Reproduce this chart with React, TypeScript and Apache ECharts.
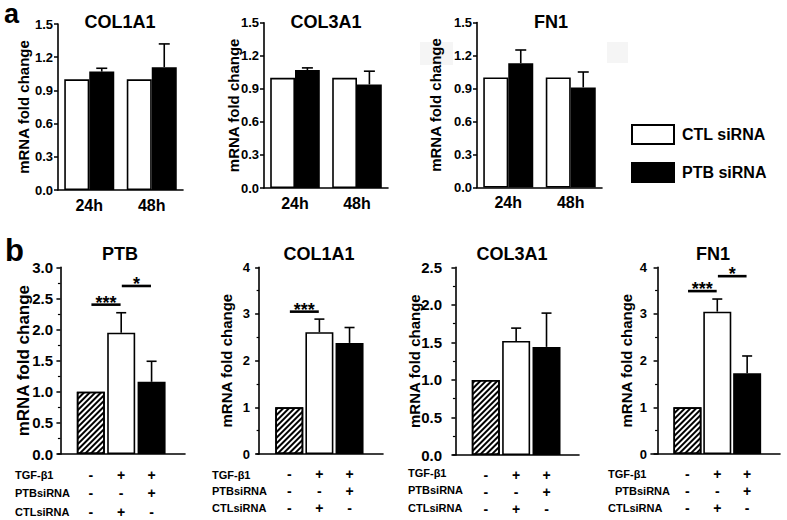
import { useEffect, useRef } from 'react';
import * as echarts from 'echarts';

const FONT = '"Liberation Sans", Arial, Helvetica, sans-serif';

// ---------------- Panel a data ----------------
const timePoints = ['24h', '48h'];
const seriesNames = ['CTL siRNA', 'PTB siRNA'];
const panelAGenes = ['COL1A1', 'COL3A1', 'FN1'];
const col1a1ACtl = [1.0, 1.0];
const col1a1APtb = [1.07, 1.11];
const col1a1APtbErr = [0.03, 0.21];
const col3a1ACtl = [1.0, 1.0];
const col3a1APtb = [1.07, 0.94];
const col3a1APtbErr = [0.02, 0.12];
const fn1ACtl = [1.0, 1.0];
const fn1APtb = [1.13, 0.91];
const fn1APtbErr = [0.12, 0.14];
const panelAMax = 1.5;
const panelAStep = 0.3;

// ---------------- Panel b data ----------------
const panelBGenes = ['PTB', 'COL1A1', 'COL3A1', 'FN1'];
const conditionSlots = [1, 2, 3];
const ptbB = [1.0, 1.95, 1.16];
const ptbBErr = [0, 0.32, 0.33];
const col1a1B = [1.0, 2.61, 2.38];
const col1a1BErr = [0, 0.28, 0.33];
const col3a1B = [1.0, 1.52, 1.44];
const col3a1BErr = [0, 0.17, 0.45];
const fn1B = [1.0, 3.05, 1.73];
const fn1BErr = [0, 0.27, 0.37];
const panelBMax = [3, 4, 2.5, 4];
const panelBStep = [0.5, 1, 0.5, 1];
// significance brackets: [fromSlot, toSlot, height]
const ptbSig = [[1, 2, 2.4], [2, 3, 2.7]];
const ptbSigLabels = ['***', '*'];
const col1a1Sig = [[1, 2, 3.05]];
const col1a1SigLabels = ['***'];
const col3a1Sig: number[][] = [];
const col3a1SigLabels: string[] = [];
const fn1Sig = [[1, 2, 3.49], [2, 3, 3.81]];
const fn1SigLabels = ['***', '*'];
// treatment table
const tableRowLabels = ['TGF-β1', 'PTBsiRNA', 'CTLsiRNA'];
const tgfRow = ['-', '+', '+'];
const ptbSiRow = ['-', '-', '+'];
const ctlSiRow = ['-', '+', '-'];

export default function App() {
  const ref = useRef<HTMLDivElement>(null);

  useEffect(() => {
    if (!ref.current) return;
    const chart = echarts.init(ref.current, undefined, { renderer: 'svg' });

    const aCtl = [col1a1ACtl, col3a1ACtl, fn1ACtl];
    const aPtb = [col1a1APtb, col3a1APtb, fn1APtb];
    const aPtbErr = [col1a1APtbErr, col3a1APtbErr, fn1APtbErr];
    const bVals = [ptbB, col1a1B, col3a1B, fn1B];
    const bErrs = [ptbBErr, col1a1BErr, col3a1BErr, fn1BErr];
    const bSig = [ptbSig, col1a1Sig, col3a1Sig, fn1Sig];
    const bSigLabels = [ptbSigLabels, col1a1SigLabels, col3a1SigLabels, fn1SigLabels];

    // layout
    const aGrids = [
      { left: 58, top: 24, width: 125, height: 166 },
      { left: 264, top: 22.7, width: 124, height: 165.3 },
      { left: 477, top: 22.5, width: 125, height: 165 },
    ];
    const aNameGap = [27, 23, 34];
    const bGrids = [
      { left: 58, top: 267.3, width: 127, height: 186.7 },
      { left: 257, top: 267.3, width: 126, height: 186.7 },
      { left: 453, top: 267.3, width: 126, height: 187.7 },
      { left: 651, top: 267.3, width: 129, height: 186.7 },
    ];
    const bXMin = [-0.08, -0.07, -0.08, -0.22];
    const bXMax = [4.1, 4.11, 4.07, 4.1];
    const bTickFont = [15, 13, 15, 13];
    const bNameFont = [17, 15, 15, 15];
    const bNameGap = [26, 23, 31, 17];
    const bLabelMargin = [5, 7, 11, 4];
    const bRowLine = [18.5, 17, 17, 17];
    const bRowMargin = [11.5, 11.5, 11, 11.5];
    const bTitleX = [120, 319, 512, 713];
    const aTitleX = [120, 326, 551];
    const rowLabelX = [[15, 15, 15], [212, 212, 212], [408, 408, 408], [608, 615, 608]];
    const rowLabelY = [[475, 493, 512], [475, 491, 508], [473, 490, 508], [474, 491, 508]];

    const black = '#000';
    const axisLineStyle = { color: black, width: 1.6 };

    const grid: any[] = [];
    const xAxis: any[] = [];
    const yAxis: any[] = [];
    const series: any[] = [];
    const graphic: any[] = [];

    const txt = (text: string, x: number, y: number, size: number, align = 'left') => ({
      type: 'text',
      x,
      y,
      silent: true,
      style: {
        text,
        fill: black,
        fontFamily: FONT,
        fontWeight: 'bold',
        fontSize: size,
        textAlign: align,
        align,
        textVerticalAlign: 'middle',
        verticalAlign: 'middle',
      },
    });

    // ---------- panel a ----------
    aGrids.forEach((g, i) => {
      grid.push({ ...g, containLabel: false, outerBoundsMode: 'none' });
      xAxis.push({
        type: 'category',
        gridIndex: i,
        data: timePoints,
        axisLine: { lineStyle: axisLineStyle },
        axisTick: { show: false },
        axisLabel: { color: black, fontFamily: FONT, fontWeight: 'bold', fontSize: 16, margin: 7 },
        splitLine: { show: false },
      });
      yAxis.push({
        type: 'value',
        gridIndex: i,
        min: 0,
        max: panelAMax,
        interval: panelAStep,
        axisLine: { show: true, lineStyle: axisLineStyle },
        axisTick: { show: true, length: 4, lineStyle: { color: black, width: 1.5 } },
        axisLabel: {
          color: black, fontFamily: FONT, fontWeight: 'bold', fontSize: 13, margin: 5,
          formatter: (v: number) => v.toFixed(1),
        },
        splitLine: { show: false },
        name: 'mRNA fold change',
        nameLocation: 'middle',
        nameRotate: 90,
        nameGap: aNameGap[i],
        nameMoveOverlap: false,
        nameTextStyle: { color: black, fontFamily: FONT, fontWeight: 'bold', fontSize: 15 },
      });
      series.push({
        type: 'bar',
        name: seriesNames[0],
        xAxisIndex: i,
        yAxisIndex: i,
        data: aCtl[i],
        barGap: '0%',
        barCategoryGap: '20%',
        itemStyle: { color: '#fff', borderColor: black, borderWidth: 1.6 },
      });
      series.push({
        type: 'bar',
        name: seriesNames[1],
        xAxisIndex: i,
        yAxisIndex: i,
        data: aPtb[i],
        barGap: '0%',
        barCategoryGap: '20%',
        itemStyle: { color: black, borderColor: black, borderWidth: 1.6 },
      });
      series.push({
        type: 'custom',
        xAxisIndex: i,
        yAxisIndex: i,
        z: 5,
        data: aPtb[i].map((v, k) => [k, v, aPtbErr[i][k]]),
        renderItem: (_p: any, api: any) => {
          const cat = api.value(0);
          const v = api.value(1);
          const e = api.value(2);
          const band = api.size([1, 0])[0];
          const barW = (band * 0.8) / 2;
          const p0 = api.coord([cat, v]);
          const p1 = api.coord([cat, v + e]);
          const x = p0[0] + barW / 2;
          const st = { stroke: black, lineWidth: 1.6 };
          return {
            type: 'group',
            children: [
              { type: 'line', shape: { x1: x, y1: p0[1], x2: x, y2: p1[1] }, style: st },
              { type: 'line', shape: { x1: x - 5.5, y1: p1[1], x2: x + 5.5, y2: p1[1] }, style: st },
            ],
          };
        },
      });
      graphic.push(txt(panelAGenes[i], aTitleX[i], 21.5, 18, 'center'));
    });

    // ---------- panel b ----------
    const hatch = {
      symbol: 'rect',
      symbolSize: 1,
      color: black,
      backgroundColor: '#fff',
      dashArrayX: [1, 0],
      dashArrayY: [1.3, 1.9],
      rotation: -Math.PI / 4,
    };
    const barStyles = [
      { color: '#fff', borderColor: black, borderWidth: 1.6, decal: hatch },
      { color: '#fff', borderColor: black, borderWidth: 1.6 },
      { color: black, borderColor: black, borderWidth: 1.6 },
    ];

    bGrids.forEach((g, j) => {
      const gi = aGrids.length + j;
      grid.push({ ...g, containLabel: false, outerBoundsMode: 'none' });
      xAxis.push({
        type: 'value',
        gridIndex: gi,
        min: bXMin[j],
        max: bXMax[j],
        axisLine: { show: true, onZero: false, lineStyle: axisLineStyle },
        axisTick: { show: false },
        splitLine: { show: false },
        axisLabel: {
          customValues: conditionSlots,
          color: black,
          fontFamily: FONT,
          fontWeight: 'bold',
          fontSize: 14,
          lineHeight: bRowLine[j],
          margin: bRowMargin[j],
          formatter: (v: number) => {
            const k = conditionSlots.indexOf(Math.round(v));
            if (k < 0) return '';
            return `${tgfRow[k]}\n${ptbSiRow[k]}\n${ctlSiRow[k]}`;
          },
        },
      });
      yAxis.push({
        type: 'value',
        gridIndex: gi,
        min: 0,
        max: panelBMax[j],
        interval: panelBStep[j],
        axisLine: { show: true, lineStyle: axisLineStyle },
        axisTick: { show: true, length: 4, lineStyle: { color: black, width: 1.5 } },
        minorTick: { show: true, splitNumber: 2, length: 2.5, lineStyle: { color: black, width: 1.2 } },
        axisLabel: {
          color: black, fontFamily: FONT, fontWeight: 'bold', fontSize: bTickFont[j], margin: bLabelMargin[j],
          formatter: (v: number) => (panelBStep[j] < 1 ? v.toFixed(1) : String(v)),
        },
        splitLine: { show: false },
        minorSplitLine: { show: false },
        name: 'mRNA fold change',
        nameLocation: 'middle',
        nameRotate: 90,
        nameGap: bNameGap[j],
        nameMoveOverlap: false,
        nameTextStyle: { color: black, fontFamily: FONT, fontWeight: 'bold', fontSize: bNameFont[j] },
      });
      series.push({
        type: 'bar',
        name: panelBGenes[j],
        xAxisIndex: gi,
        yAxisIndex: gi,
        barWidth: 28,
        data: bVals[j].map((v, k) => ({ value: [conditionSlots[k], v], itemStyle: barStyles[k] })),
      });
      series.push({
        type: 'custom',
        xAxisIndex: gi,
        yAxisIndex: gi,
        z: 5,
        data: bVals[j]
          .map((v, k) => [conditionSlots[k], v, bErrs[j][k]])
          .filter((d) => d[2] > 0),
        renderItem: (_p: any, api: any) => {
          const p0 = api.coord([api.value(0), api.value(1)]);
          const p1 = api.coord([api.value(0), api.value(1) + api.value(2)]);
          const x = p0[0];
          const st = { stroke: black, lineWidth: 1.6 };
          return {
            type: 'group',
            children: [
              { type: 'line', shape: { x1: x, y1: p0[1], x2: x, y2: p1[1] }, style: st },
              { type: 'line', shape: { x1: x - 5, y1: p1[1], x2: x + 5, y2: p1[1] }, style: st },
            ],
          };
        },
      });
      if (bSig[j].length) {
        series.push({
          type: 'custom',
          xAxisIndex: gi,
          yAxisIndex: gi,
          z: 5,
          clip: false,
          data: bSig[j],
          renderItem: (p: any, api: any) => {
            const a = api.coord([api.value(0) + 0.02, api.value(2)]);
            const b = api.coord([api.value(1) - 0.02, api.value(2)]);
            return {
              type: 'group',
              children: [
                { type: 'line', shape: { x1: a[0], y1: a[1], x2: b[0], y2: b[1] }, style: { stroke: black, lineWidth: 2.6 } },
                {
                  type: 'text',
                  x: (a[0] + b[0]) / 2,
                  y: a[1] - 2,
                  style: {
                    text: bSigLabels[j][p.dataIndex],
                    fill: black,
                    fontFamily: FONT,
                    fontWeight: 'bold',
                    fontSize: 18,
                    align: 'center',
                    verticalAlign: 'middle',
                  },
                },
              ],
            };
          },
        });
      }
      graphic.push(txt(panelBGenes[j], bTitleX[j], 254, 18, 'center'));
      tableRowLabels.forEach((r, k) => {
        graphic.push(txt(r, rowLabelX[j][k], rowLabelY[j][k], 11));
      });
    });

    graphic.push(txt('a', 4, 13.5, 27));
    graphic.push(txt('b', 5, 250, 31));
    graphic.push({ type: 'rect', z: -10, silent: true, shape: { x: 420, y: 42, width: 33, height: 23 }, style: { fill: '#f5f5f5' } });
    graphic.push({ type: 'rect', z: -10, silent: true, shape: { x: 607, y: 42, width: 21, height: 21 }, style: { fill: '#f5f5f5' } });

    const option: any = {
      animation: false,
      backgroundColor: '#fff',
      textStyle: { fontFamily: FONT },
      legend: {
        show: true,
        orient: 'vertical',
        left: 626,
        top: 119,
        itemWidth: 42,
        itemHeight: 19,
        itemGap: 17,
        selectedMode: false,
        textStyle: { color: black, fontFamily: FONT, fontWeight: 'bold', fontSize: 16, padding: [0, 0, 0, 3] },
        data: [
          { name: seriesNames[0], icon: 'rect', itemStyle: { color: '#fff', borderColor: black, borderWidth: 2 } },
          { name: seriesNames[1], icon: 'rect', itemStyle: { color: black, borderColor: black, borderWidth: 2 } },
        ],
      },
      grid,
      xAxis,
      yAxis,
      series,
      graphic,
    };
    chart.setOption(option);
    return () => chart.dispose();
  }, []);

  return (
    <div
      ref={ref}
      style={{ position: 'absolute', left: 0, top: 0, width: 787, height: 520, background: '#fff' }}
    />
  );
}
